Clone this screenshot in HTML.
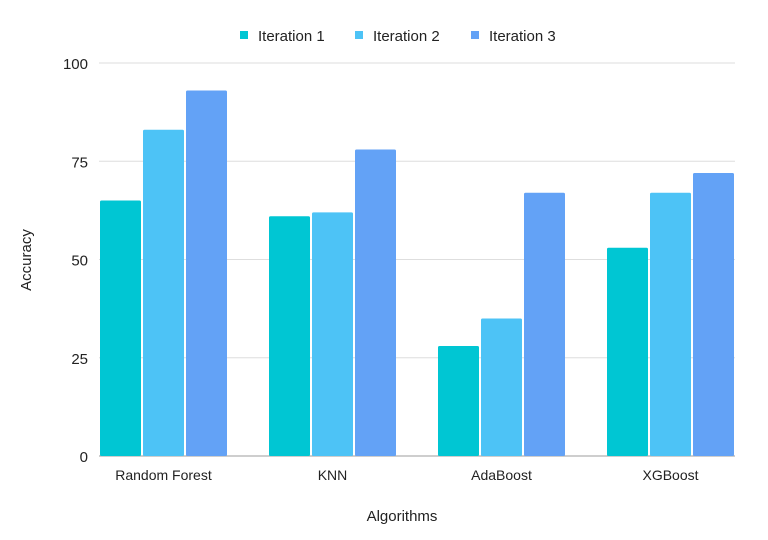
<!DOCTYPE html>
<html><head><meta charset="utf-8">
<style>
body{margin:0;background:#fff;}
svg{display:block;font-family:"Liberation Sans",sans-serif;}
</style></head>
<body>
<svg id="chart" width="768" height="540" viewBox="0 0 768 540">
<g id="grid"></g>
<g id="bars"></g>
<g id="yticks"></g>
<g id="xticks"></g>
<text x="31" y="260" font-size="15" fill="#222" text-anchor="middle" transform="rotate(-90 31 260)">Accuracy</text>
<text x="402" y="521" font-size="15" fill="#222" text-anchor="middle">Algorithms</text>
<g id="legend"></g>
</svg>
<script>
const categories = ["Random Forest","KNN","AdaBoost","XGBoost"];
const seriesNames = ["Iteration 1","Iteration 2","Iteration 3"];
const iter1 = [65,61,28,53];
const iter2 = [83,62,35,67];
const iter3 = [93,78,67,72];
const yTicks = [0,25,50,75,100];
const colors = ["#00c6d3","#4dc3f6","#63a2f6"];
const series = [iter1, iter2, iter3];
const NS = "http://www.w3.org/2000/svg";
const y0 = 456, y100 = 63, xL = 99, xR = 735;
const pitch = 169, firstBar = 100, bw = 41, gap = 2;
function y(v){ return y0 - (y0 - y100) * v / 100; }
function xBar(ci, si){ return firstBar + ci*pitch + si*(bw+gap); }
function mk(tag, attrs, parent){ const e=document.createElementNS(NS,tag); for(const k in attrs) e.setAttribute(k,attrs[k]); parent.appendChild(e); return e; }
const grid=document.getElementById('grid'), yt=document.getElementById('yticks');
yTicks.forEach(t=>{
  const l=mk('line',{x1:xL,x2:xR,y1:y(t),y2:y(t),stroke:t===0?'#9e9e9e':'#dedede','stroke-width':1},grid);
  
  
  const tx=mk('text',{x:88,y:y(t)+6,'font-size':15,fill:'#222','text-anchor':'end'},yt);
  tx.textContent=t;
  
  
});
const bars=document.getElementById('bars');
categories.forEach((c,ci)=>{
  series.forEach((s,si)=>{
    const r=mk('rect',{x:xBar(ci,si),y:y(s[ci]),width:bw,height:y0-y(s[ci]),fill:colors[si],rx:1.5},bars);
    
    
  });
  const tx=mk('text',{x:xBar(ci,0)+(3*bw+2*gap)/2,y:480,'font-size':14,fill:'#222','text-anchor':'middle'},document.getElementById('xticks'));
  tx.textContent=c;
  
  
});
const leg=document.getElementById('legend');
const lx=[240,355,471];
seriesNames.forEach((n,i)=>{
  const g=mk('g',{},leg);
  
  
  mk('rect',{x:lx[i],y:31,width:8,height:8,fill:colors[i]},g);
  const t=mk('text',{x:lx[i]+18,y:41,'font-size':15,fill:'#222'},g);
  t.textContent=n;
});
</script>
</body></html>
